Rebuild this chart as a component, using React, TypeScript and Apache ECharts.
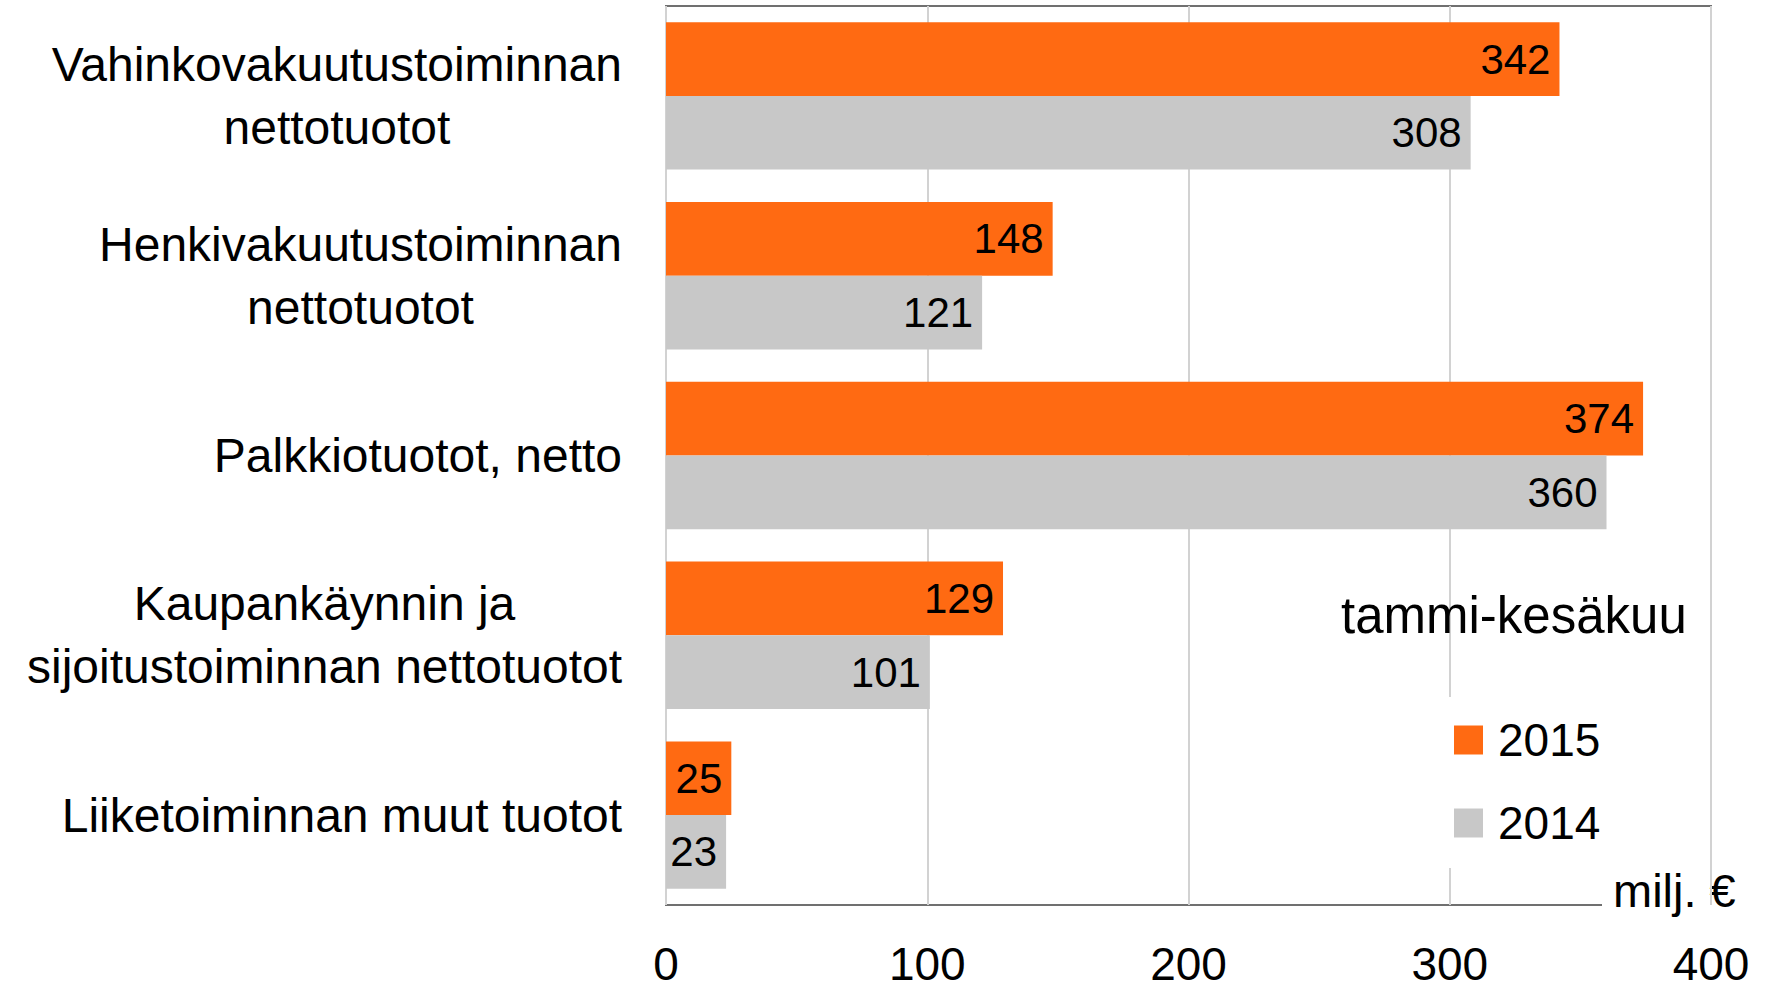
import React, { useEffect, useRef } from "react";
import * as echarts from "echarts";

const categories = [
  "Vahinkovakuutustoiminnan\nnettotuotot",
  "Henkivakuutustoiminnan\nnettotuotot",
  "Palkkiotuotot, netto",
  "Kaupankäynnin ja\nsijoitustoiminnan nettotuotot",
  "Liiketoiminnan muut tuotot",
];
const values2015 = [342, 148, 374, 129, 25];
const values2014 = [308, 121, 360, 101, 23];
const seriesNames = ["2015", "2014"];
const xTicks = { min: 0, max: 400, interval: 100 };
const titleText = "tammi-kesäkuu";
const unitText = "milj. €";

const FONT = "'Liberation Sans', Arial, sans-serif";

export default function App() {
  const ref = useRef<HTMLDivElement>(null);
  useEffect(() => {
    if (!ref.current) return;
    const chart = echarts.init(ref.current, null, { renderer: "svg" });
    const valueLabel = {
      show: true,
      position: "insideRight",
      distance: 9,
      color: "#000",
      fontSize: 42,
      fontFamily: FONT,
    };
    chart.setOption({
      animation: false,
      backgroundColor: "#fff",
      textStyle: { fontFamily: FONT },
      title: {
        text: titleText,
        left: 1341,
        top: 590,
        padding: 0,
        textStyle: { fontSize: 51, fontWeight: "normal", color: "#000", fontFamily: FONT },
      },
      grid: {
        left: 666,
        right: 59,
        top: 6,
        bottom: 88,
        show: true,
        borderColor: "#707070",
        borderWidth: 2,
        containLabel: false,
        outerBoundsMode: "none",
      },
      legend: {
        orient: "vertical",
        left: 1440,
        top: 697,
        padding: [20, 12, 22, 14],
        itemGap: 37,
        itemWidth: 29,
        itemHeight: 29,
        icon: "rect",
        backgroundColor: "#fff",
        selectedMode: false,
        data: seriesNames,
        textStyle: { fontSize: 46, color: "#000", fontFamily: FONT, padding: [0, 0, 0, 10] },
      },
      xAxis: {
        type: "value",
        min: xTicks.min,
        max: xTicks.max,
        interval: xTicks.interval,
        axisLine: { show: false },
        axisTick: { show: false },
        axisLabel: {
          fontSize: 46,
          lineHeight: 44,
          color: "#000",
          margin: 37,
          fontFamily: FONT,
        },
        splitLine: { show: true, lineStyle: { color: "#d2d2d2", width: 2 } },
      },
      yAxis: {
        type: "category",
        inverse: true,
        data: categories,
        axisLine: { show: false },
        axisTick: { show: false },
        axisLabel: {
          margin: 44,
          align: "right",
          formatter: (v: string) =>
            v
              .split("\n")
              .map((l) => `{c|${l}}`)
              .join("\n"),
          rich: {
            c: {
              align: "center",
              fontSize: 48,
              lineHeight: 63,
              color: "#000",
              fontFamily: FONT,
            },
          },
        },
      },
      series: [
        {
          name: seriesNames[0],
          type: "bar",
          data: values2015,
          barGap: "0%",
          barCategoryGap: "18%",
          itemStyle: { color: "#FF6A12" },
          label: valueLabel,
        },
        {
          name: seriesNames[1],
          type: "bar",
          data: values2014,
          barGap: "0%",
          barCategoryGap: "18%",
          itemStyle: { color: "#C8C8C8" },
          label: valueLabel,
        },
      ],
      graphic: [
        {
          type: "group",
          z: 100,
          children: [
            {
              type: "rect",
              shape: { x: 1602, y: 854, width: 160, height: 70 },
              style: { fill: "#fff" },
            },
            {
              type: "text",
              x: 1613,
              y: 890,
              style: {
                text: unitText,
                fill: "#000",
                font: `47px ${FONT}`,
                verticalAlign: "middle",
              },
            },
          ],
        },
      ],
    });
    return () => chart.dispose();
  }, []);
  return (
    <div
      ref={ref}
      style={{ position: "fixed", left: 0, top: 0, width: 1770, height: 993 }}
    />
  );
}
